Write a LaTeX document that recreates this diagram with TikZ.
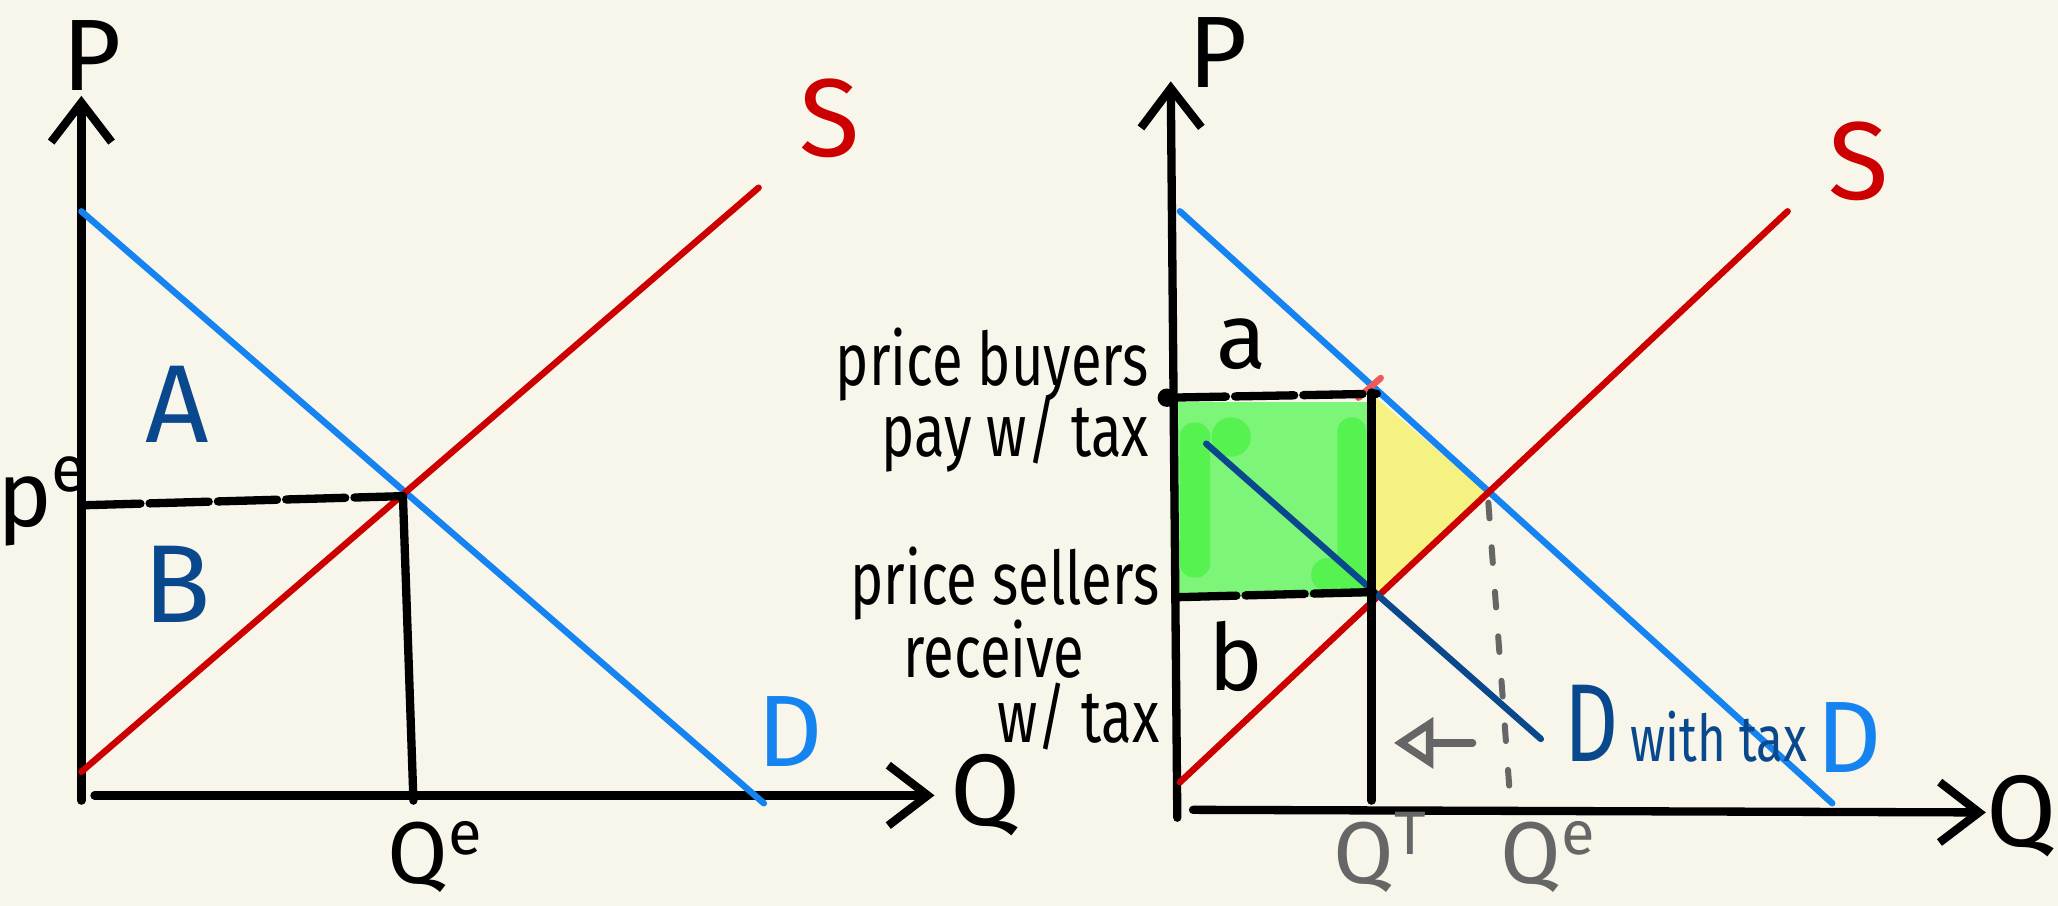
\documentclass[tikz,border=0pt]{standalone}
\usepackage{fontspec}
\setmainfont{Fira Sans}
\newfontfamily\hand[FakeStretch=0.76]{Fira Sans}
\newcommand{\handsize}[1]{\fontsize{#1}{#1}\selectfont}
\usepackage{tikz}
\usetikzlibrary{arrows.meta}

\definecolor{paper}{RGB}{248,246,234}
\definecolor{supred}{RGB}{204,0,0}
\definecolor{tickred}{RGB}{238,90,90}
\definecolor{demblue}{RGB}{22,132,240}
\definecolor{taxblue}{RGB}{10,72,142}
\definecolor{greytext}{RGB}{102,102,102}
\definecolor{lossyellow}{RGB}{246,242,130}
\definecolor{revgreen}{RGB}{124,245,120}
\definecolor{revgreendark}{RGB}{86,242,80}

\begin{document}
\begin{tikzpicture}[x=0.01cm, y=-0.01cm,
    axis/.style={line width=1.8pt, line cap=round, -{Straight Barb[length=0.3cm, width=0.46cm]}},
    curve/.style={line width=1.4pt, line cap=round},
    guide/.style={line width=1.8pt, line cap=round},
    dashedguide/.style={guide, dash pattern=on 0.45cm off 0.07cm},
    qdash/.style={line width=1.3pt, greytext, line cap=round, dash pattern=on 0.12cm off 0.22cm},
    letter/.style={inner sep=0pt, font=\handsize{22}},
    qlabel/.style={inner sep=0pt, anchor=base, font=\handsize{19}},
    note/.style={inner sep=0pt, align=right, font=\hand\handsize{16}}
]
% Page
\fill[paper] (0,0) rectangle (1568,690);
\useasboundingbox (0,0) rectangle (1568,690);

% Left market
\coordinate (lyb) at (62,610);
\coordinate (lyt) at (62,73);
\coordinate (lxl) at (72,606);
\coordinate (lxr) at (712,606);
\coordinate (ldt) at (62,161);
\coordinate (ldb) at (582,612);
\coordinate (lsb) at (62,588);
\coordinate (lst) at (578,143);
\coordinate (leq) at (307,378);
\coordinate (lpe) at (62,385);
\coordinate (lqe) at (315,610);

\draw[axis] (lyb) -- (lyt);
\draw[axis] (lxl) -- (lxr);
\draw[curve, demblue] (ldt) -- (ldb);
\draw[curve, supred] (lsb) -- (lst);
\draw[dashedguide] (lpe) -- (leq);
\draw[guide] (leq) -- (lqe);

\node[letter] (lP) at (70,42) {P};
\node[letter, supred, font=\handsize{24}] (lS) at (632,90) {S};
\node[letter, demblue] (lD) at (602,557) {D};
\node[letter, taxblue, font=\handsize{24}] (lA) at (135,308) {A};
\node[letter, taxblue, font=\handsize{24}] (lB) at (135,445) {B};
\node[letter, font=\handsize{20}] (lPe) at (33,382) {p\textsuperscript{e}};
\node[qlabel] (lQe) at (332,673) {Q\textsuperscript{e}};
\node[letter] (lQ) at (751,606) {Q};

% Right market with tax
\coordinate (ryb) at (897,623);
\coordinate (ryt) at (892,62);
\coordinate (rxl) at (909,617);
\coordinate (rxr) at (1513,619);
\coordinate (rdt) at (899,161);
\coordinate (rdb) at (1396,612);
\coordinate (rsb) at (899,596);
\coordinate (rst) at (1362,161);
\coordinate (rtt) at (919,338);
\coordinate (rtb) at (1174,563);
\coordinate (req) at (1134,376);
\coordinate (rbuy) at (889,303);
\coordinate (rbuyq) at (1049,300);
\coordinate (rsell) at (897,455);
\coordinate (rsellq) at (1049,451);
\coordinate (rqtt) at (1045,299);
\coordinate (rqtb) at (1045,610);
\coordinate (rqet) at (1134,383);
\coordinate (rqeb) at (1151,614);
\coordinate (rarrl) at (1062,566);
\coordinate (rarrr) at (1122,566);

% Tax revenue and deadweight loss
\fill[revgreen] (893,306) rectangle (1045,455);
\fill[revgreendark, rounded corners=3pt] (899,322) rectangle (922,440);
\fill[revgreendark] (938,333) circle (15);
\fill[revgreendark, rounded corners=3pt] (1019,318) rectangle (1041,452);
\fill[revgreendark] (1012,438) circle (13);
\fill[lossyellow] (1047,302) -- (req) -- (1047,457) -- cycle;

\draw[axis] (ryb) -- (ryt);
\draw[axis] (rxl) -- (rxr);
\draw[curve, demblue] (rdt) -- (rdb);
\draw[curve, supred] (rsb) -- (rst);
\draw[curve, tickred] (1035,303) -- (1052,288);
\draw[curve, taxblue] (rtt) -- (rtb);
\draw[dashedguide] (rbuy) -- (rbuyq);
\fill (rbuy) circle (7);
\draw[dashedguide] (rsell) -- (rsellq);
\draw[guide] (rqtt) -- (rqtb);
\draw[qdash] (rqet) -- (rqeb);
\draw[line width=1.6pt, greytext, line cap=round, -{Triangle[open, length=0.3cm, width=0.38cm]}] (rarrr) -- (rarrl);

\node[letter] (rP) at (928,40) {P};
\node[letter, supred, font=\handsize{24}] (rS) at (1416,123) {S};
\node[letter, demblue] (rD) at (1409,562) {D};
\node[letter] (rQ) at (1540,622) {Q};
\node[letter, font=\handsize{20}] (ra) at (946,262) {a};
\node[letter, font=\handsize{20}] (rb) at (942,500) {b};
\node[qlabel, greytext] (rQT) at (1052,673) {Q\textsuperscript{T}};
\node[qlabel, greytext] (rQe) at (1180,673) {Q\textsuperscript{e}};
\node[note, taxblue, anchor=base west] (rDtax) at (1191,580) {{\handsize{24}D}\,{\handsize{14}with tax}};
\node[note, anchor=east] (buyers) at (876,305) {price buyers\\[-2pt]pay w/ tax};
\node[note, anchor=east] (sellers) at (884,494) {price sellers\\receive\rule{0.57cm}{0pt}\\[-2pt]w/ tax};
\end{tikzpicture}
\end{document}
